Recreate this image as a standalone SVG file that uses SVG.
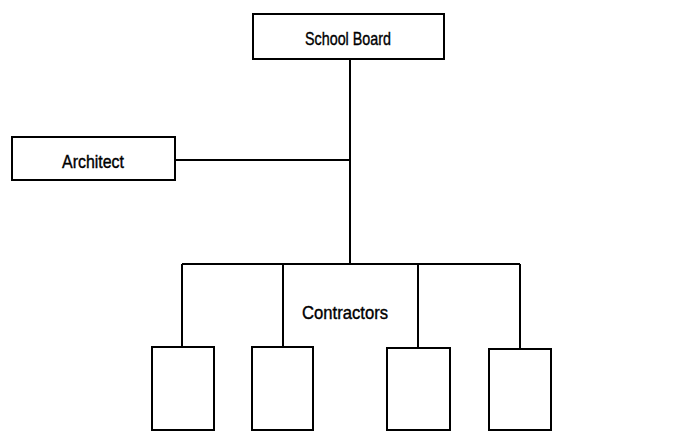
<svg xmlns="http://www.w3.org/2000/svg" width="682" height="432" viewBox="0 0 682 432">
<style>
.box{fill:#fff;stroke:#000;stroke-width:2}
.ln{fill:none;stroke:#000;stroke-width:2}
.t{font-family:"Liberation Sans",Arial,sans-serif;font-size:19px;fill:#000;stroke:#000;stroke-width:0.4;text-anchor:middle}
</style>
<rect width="682" height="432" fill="#fff"/>
<g id="connectors">
<path class="ln" d="M350 59V264M175 160H350M182 264H520M182 264V347M283 264V347M418 264V347M520 264V348"/>
</g>
<g id="school-board"><rect class="box" x="253" y="14" width="191" height="45"/><text class="t" x="348" y="45" textLength="86" lengthAdjust="spacingAndGlyphs">School Board</text></g>
<g id="architect"><rect class="box" x="12" y="137" width="163" height="43"/><text class="t" x="93" y="168" textLength="62" lengthAdjust="spacingAndGlyphs">Architect</text></g>
<g id="contractors-label"><text class="t" x="345" y="319" textLength="86" lengthAdjust="spacingAndGlyphs">Contractors</text></g>
<g id="contractor-1"><rect class="box" x="152" y="347" width="62" height="83"/></g>
<g id="contractor-2"><rect class="box" x="252" y="347" width="61" height="83"/></g>
<g id="contractor-3"><rect class="box" x="387" y="348" width="63" height="82"/></g>
<g id="contractor-4"><rect class="box" x="489" y="349" width="62" height="81"/></g>
</svg>
